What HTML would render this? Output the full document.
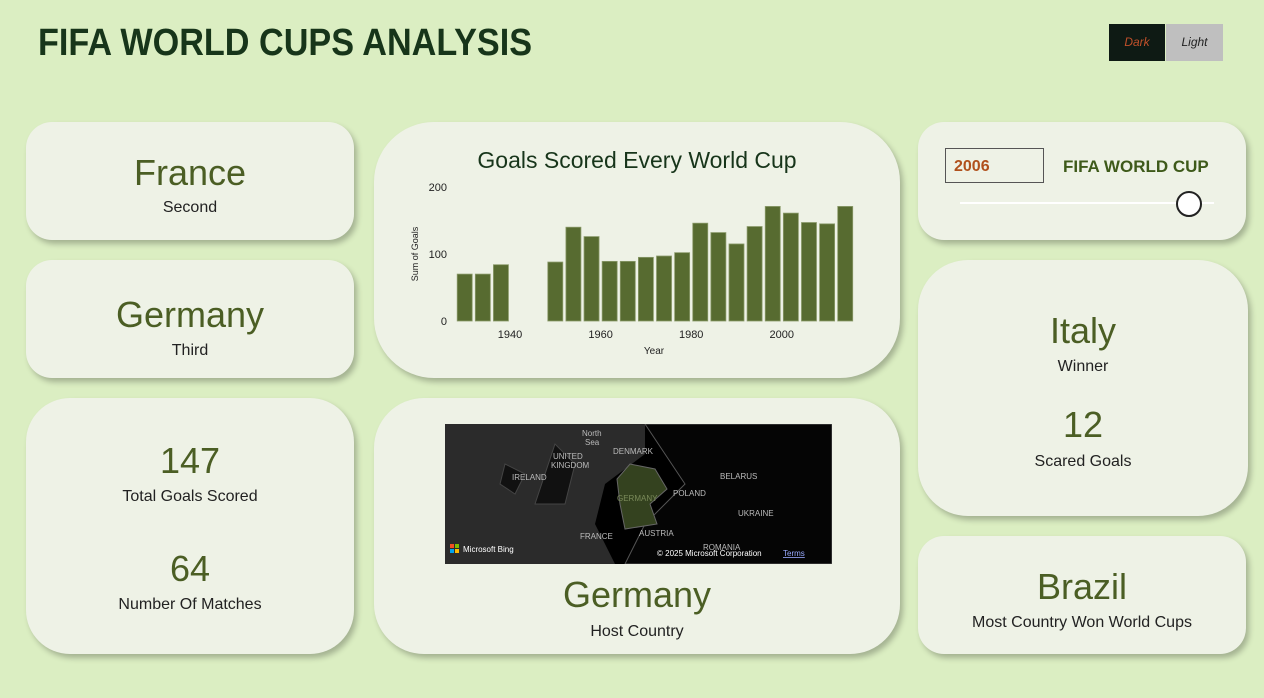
<!DOCTYPE html>
<html><head><meta charset="utf-8"><style>
body{margin:0;width:1264px;height:698px;background:#dbeec2;font-family:"Liberation Sans","DejaVu Sans",sans-serif;position:relative;overflow:hidden}
.card{position:absolute;background:#eef2e6;box-shadow:3px 4px 6px rgba(0,0,0,0.25);text-align:center}
.big{color:#4b5e24;font-size:36px;letter-spacing:0}
.sub{color:#222;font-size:16px}
.abs{position:absolute;left:0;right:0}
</style></head><body>
<div style="position:absolute;left:38px;top:22px;font-size:38px;font-weight:bold;color:#17351a;transform:scaleX(0.9);transform-origin:left top;white-space:nowrap">FIFA WORLD CUPS ANALYSIS</div>
<div style="position:absolute;left:1109px;top:24px;width:56px;height:37px;background:#0e1a14;color:#c0502a;font-size:12px;font-style:italic;line-height:37px;text-align:center">Dark</div>
<div style="position:absolute;left:1166px;top:24px;width:57px;height:37px;background:#bfbfbf;color:#222;font-size:12px;font-style:italic;line-height:37px;text-align:center">Light</div>

<div class="card" style="left:26px;top:122px;width:328px;height:118px;border-radius:26px">
<div class="abs big" style="top:30px">France</div><div class="abs sub" style="top:77px">Second</div></div>
<div class="card" style="left:26px;top:260px;width:328px;height:118px;border-radius:26px">
<div class="abs big" style="top:34px">Germany</div><div class="abs sub" style="top:82px">Third</div></div>
<div class="card" style="left:26px;top:398px;width:328px;height:256px;border-radius:44px">
<div class="abs big" style="top:42px">147</div><div class="abs sub" style="top:90px">Total Goals Scored</div>
<div class="abs big" style="top:150px">64</div><div class="abs sub" style="top:198px">Number Of Matches</div></div>

<div class="card" style="left:374px;top:122px;width:526px;height:256px;border-radius:60px">
<div class="abs" style="top:25px;font-size:23px;color:#17351a">Goals Scored Every World Cup</div>
<svg id="chart" width="526" height="256" style="position:absolute;left:0;top:0"></svg></div>

<div class="card" style="left:374px;top:398px;width:526px;height:256px;border-radius:50px">
<svg width="387" height="140" style="position:absolute;left:71px;top:26px">
<rect width="387" height="140" fill="#000"/>
<path d="M0 0H200V30L160 60L150 100L170 140H0Z" fill="#2b2b2b"/>
<path d="M110 20L130 40L120 80L90 80L100 50Z M60 40L80 50L70 70L55 60Z" fill="#111" stroke="#444"/>
<path d="M200 0L387 0 387 140 180 140 200 100 240 60Z" fill="#050505" stroke="#555" stroke-width="1"/>
<path d="M185 40L210 45L222 65L205 80L212 100L180 105L175 80L172 55Z" fill="#34421f" stroke="#666"/>
<g font-size="8" fill="#bbb"><text x="137" y="12">North</text><text x="140" y="21">Sea</text><text x="168" y="30">DENMARK</text><text x="108" y="35">UNITED</text><text x="106" y="44">KINGDOM</text><text x="67" y="56">IRELAND</text><text x="172" y="77" fill="#7a8a5a">GERMANY</text><text x="228" y="72">POLAND</text><text x="275" y="55">BELARUS</text><text x="293" y="92">UKRAINE</text><text x="135" y="115">FRANCE</text><text x="194" y="112">AUSTRIA</text><text x="258" y="126">ROMANIA</text>
<text x="18" y="128" fill="#fff">Microsoft Bing</text><text x="212" y="132" fill="#fff">© 2025 Microsoft Corporation</text><text x="338" y="132" fill="#9af" text-decoration="underline">Terms</text></g>
<rect x="5" y="120" width="4" height="4" fill="#f25022"/><rect x="10" y="120" width="4" height="4" fill="#7fba00"/><rect x="5" y="125" width="4" height="4" fill="#00a4ef"/><rect x="10" y="125" width="4" height="4" fill="#ffb900"/>
</svg>
<div class="abs big" style="top:176px">Germany</div><div class="abs sub" style="top:225px">Host Country</div></div>

<div class="card" style="left:918px;top:122px;width:328px;height:118px;border-radius:26px">
<div style="position:absolute;left:27px;top:26px;width:99px;height:35px;border:1px solid #555;color:#b0501c;font-weight:bold;font-size:16px;line-height:35px;text-align:left;padding-left:8px;box-sizing:border-box">2006</div>
<div style="position:absolute;left:145px;top:35px;font-weight:bold;font-size:17px;color:#3e5a1a">FIFA WORLD CUP</div>
<div style="position:absolute;left:42px;top:80px;width:254px;height:2px;background:#fff"></div>
<div style="position:absolute;left:258px;top:69px;width:22px;height:22px;border:2px solid #222;border-radius:50%;background:#fff"></div></div>

<div class="card" style="left:918px;top:260px;width:330px;height:256px;border-radius:50px">
<div class="abs big" style="top:50px">Italy</div><div class="abs sub" style="top:98px">Winner</div>
<div class="abs big" style="top:144px">12</div><div class="abs sub" style="top:193px">Scared Goals</div></div>
<div class="card" style="left:918px;top:536px;width:328px;height:118px;border-radius:26px">
<div class="abs big" style="top:30px">Brazil</div><div class="abs sub" style="top:78px">Most Country Won World Cups</div></div>

<script>
const years=[1930,1934,1938,1950,1954,1958,1962,1966,1970,1974,1978,1982,1986,1990,1994,1998,2002,2006,2010,2014];
const goals=[70,70,84,88,140,126,89,89,95,97,102,146,132,115,141,171,161,147,145,171];
const yTicks=[0,100,200];
const xTicks=[1940,1960,1980,2000];
const svg=document.getElementById('chart');const NS='http://www.w3.org/2000/svg';
const X=y=>136+(y-1940)*4.53, Y=v=>199-v*0.67;
function mk(t,a,txt){const e=document.createElementNS(NS,t);for(const k in a)e.setAttribute(k,a[k]);if(txt!=null)e.textContent=txt;svg.appendChild(e);return e;}
years.forEach((yr,i)=>{const r=mk('rect',{x:X(yr)-7.5,y:Y(goals[i]),width:15,height:Y(0)-Y(goals[i]),fill:'#576b30',stroke:'#8a9a6a','stroke-width':0.8});

});
yTicks.forEach(v=>{const t=mk('text',{x:73,y:Y(v)+4,'font-size':11,'text-anchor':'end',fill:'#222'},v);

});
xTicks.forEach(v=>{const t=mk('text',{x:X(v),y:216,'font-size':11,'text-anchor':'middle',fill:'#222'},v);

});
const xt=mk('text',{x:280,y:232,'font-size':10,'text-anchor':'middle',fill:'#222'},'Year');


const yt=mk('text',{x:44,y:132,'font-size':9,'text-anchor':'middle',fill:'#222',transform:'rotate(-90 44 132)'},'Sum of Goals');


</script>
</body></html>
